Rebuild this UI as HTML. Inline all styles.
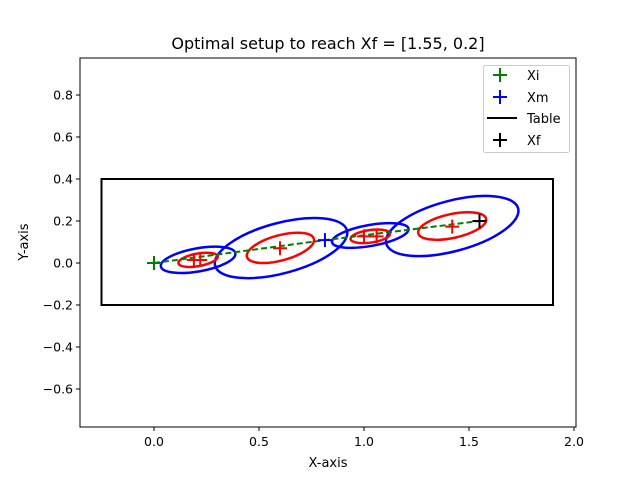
<!DOCTYPE html>
<html><head><meta charset="utf-8"><style>
body{margin:0;background:#fff;}
svg{display:block;font-family:"DejaVu Sans","Liberation Sans",sans-serif;}
</style></head><body>
<svg id="chart" width="640" height="480" viewBox="0 0 640 480">
<rect x="0" y="0" width="640" height="480" fill="#fff"/>
<text x="328" y="49" font-size="16" text-anchor="middle">Optimal setup to reach Xf = [1.55, 0.2]</text>
<text x="328" y="467" font-size="13" text-anchor="middle">X-axis</text>
<text x="0" y="0" font-size="13" text-anchor="middle" transform="translate(28,242) rotate(-90)">Y-axis</text>
<g id="ticks"></g>
<g id="marks"></g>
<rect x="80" y="58" width="496" height="369" fill="none" stroke="#000" stroke-width="1"/>
<g id="legend">
<rect x="483.5" y="65.5" width="86" height="87" rx="2" fill="#fff" fill-opacity="0.8" stroke="#ccc"/>
<g><path d="M493 75h14M500 68v14" stroke="green" stroke-width="2"/><text x="527" y="80" font-size="13">Xi</text></g>
<g><path d="M493 97h14M500 90v14" stroke="blue" stroke-width="2"/><text x="527" y="102" font-size="13">Xm</text></g>
<g><path d="M487 118h30" stroke="#000" stroke-width="2"/><text x="527" y="123" font-size="13">Table</text></g>
<g><path d="M493 140h14M500 133v14" stroke="#000" stroke-width="2"/><text x="527" y="145" font-size="13">Xf</text></g>
</g>
</svg>
<script>
const xTicks=[0,0.5,1.0,1.5,2.0];
const xTickLabels=["0.0","0.5","1.0","1.5","2.0"];
const yTicks=[-0.6,-0.4,-0.2,0,0.2,0.4,0.6,0.8];
const yTickLabels=["−0.6","−0.4","−0.2","0.0","0.2","0.4","0.6","0.8"];
const xi=[0,0];
const xm=[0.814,0.109];
const xf=[1.55,0.2];
const pathX=[0,0.814,1.55];
const pathY=[0,0.109,0.2];
const redX=[0.19,0.22,0.6,1.0,1.06,1.42];
const redY=[0.014,0.014,0.07,0.127,0.127,0.173];
const tableX=[-0.25,1.9];
const tableY=[-0.2,0.4];
const blueCx=[0.21,0.605,1.03,1.42];
const blueCy=[0.015,0.071,0.131,0.176];
const blueA=[0.18,0.325,0.185,0.325];
const blueB=[0.055,0.12,0.05,0.12];
const blueAng=[10,15,10,15];
const redCx=[0.21,0.602,1.03,1.42];
const redCy=[0.015,0.072,0.127,0.176];
const redA=[0.095,0.165,0.095,0.165];
const redB=[0.03,0.06,0.03,0.057];
const redAng=[10,15,8,12];

const X=v=>154+v*210, Y=v=>263-v*210, S=v=>v*210;
const NS="http://www.w3.org/2000/svg";
const tk=document.getElementById('ticks'), mk=document.getElementById('marks');
function mkEl(t,a,p){const e=document.createElementNS(NS,t);for(const k in a)e.setAttribute(k,a[k]);p.appendChild(e);return e;}
xTicks.forEach((v,i)=>{
 const g=mkEl('g',{},tk);
 
 
 mkEl('line',{x1:X(v),x2:X(v),y1:427,y2:431,stroke:'#000'},g);
 const t=mkEl('text',{x:X(v),y:446,'font-size':12.5,'text-anchor':'middle'},g);t.textContent=xTickLabels[i];
});
yTicks.forEach((v,i)=>{
 const g=mkEl('g',{},tk);
 
 
 mkEl('line',{x1:76,x2:80,y1:Y(v),y2:Y(v),stroke:'#000'},g);
 const t=mkEl('text',{x:73,y:Y(v)+4.5,'font-size':12.5,'text-anchor':'end'},g);t.textContent=yTickLabels[i];
});
const tb=mkEl('rect',{x:X(tableX[0]),y:Y(tableY[1]),width:S(tableX[1]-tableX[0]),height:S(tableY[1]-tableY[0]),fill:'none',stroke:'#000','stroke-width':2},mk);


function ell(cx,cy,a,b,ang,col,name){
 const e=mkEl('ellipse',{cx:X(cx),cy:Y(cy),rx:S(a),ry:S(b),fill:'none',stroke:col,'stroke-width':2.5,transform:`rotate(${-ang} ${X(cx)} ${Y(cy)})`},mk);
 
 
}
blueCx.forEach((c,i)=>ell(c,blueCy[i],blueA[i],blueB[i],blueAng[i],'blue','blue-ellipse'));
redCx.forEach((c,i)=>ell(c,redCy[i],redA[i],redB[i],redAng[i],'red','red-ellipse'));
const pl=mkEl('polyline',{points:pathX.map((v,i)=>X(v)+','+Y(pathY[i])).join(' '),fill:'none',stroke:'green','stroke-width':2,'stroke-dasharray':'6,3'},mk);


function plus(x,y,col,name){
 const p=mkEl('path',{d:`M${X(x)-7} ${Y(y)}h14M${X(x)} ${Y(y)-7}v14`,stroke:col,'stroke-width':2},mk);
 
 
}
redX.forEach((v,i)=>plus(v,redY[i],'red','red-marker'));
plus(xi[0],xi[1],'green','xi-marker');
plus(xm[0],xm[1],'blue','xm-marker');
plus(xf[0],xf[1],'#000','xf-marker');
</script>
</body></html>
